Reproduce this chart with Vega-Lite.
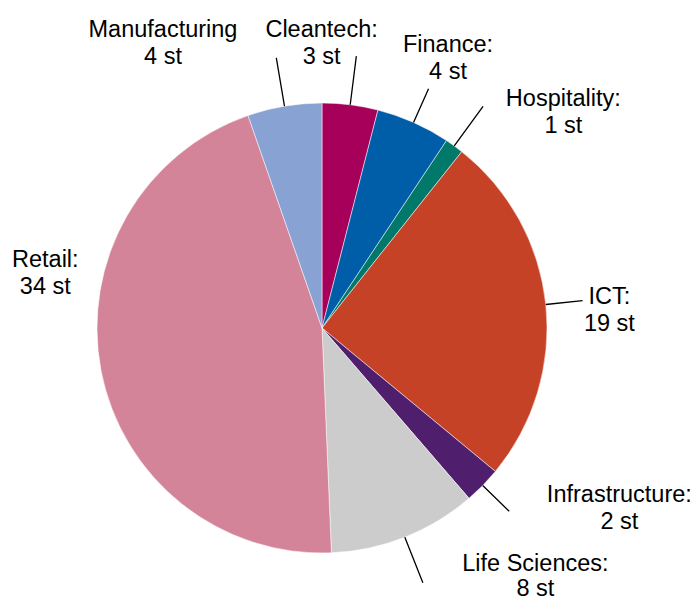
{
  "$schema": "https://vega.github.io/schema/vega-lite/v6.json",
  "width": 644,
  "height": 550,
  "autosize": "none",
  "padding": {"left": 0, "top": 53, "right": 53, "bottom": 0},
  "background": "white",
  "config": {"view": {"stroke": null}, "text": {"font": "Liberation Sans"}},
  "data": {
    "values": [
      {"sector": "Cleantech", "count": 3, "ord": 1, "label": "Cleantech:\n3 st"},
      {"sector": "Finance", "count": 4, "ord": 2, "label": "Finance:\n4 st"},
      {"sector": "Hospitality", "count": 1, "ord": 3, "label": "Hospitality:\n1 st"},
      {"sector": "ICT", "count": 19, "ord": 4, "label": "ICT:\n19 st"},
      {"sector": "Infrastructure", "count": 2, "ord": 5, "label": "Infrastructure:\n2 st"},
      {"sector": "Life Sciences", "count": 8, "ord": 6, "label": "Life Sciences:\n8 st"},
      {"sector": "Retail", "count": 34, "ord": 7, "label": "Retail:\n34 st"},
      {"sector": "Manufacturing", "count": 4, "ord": 8, "label": "Manufacturing\n4 st"}
    ]
  },
  "encoding": {
    "theta": {"field": "count", "type": "quantitative", "stack": true},
    "order": {"field": "ord", "type": "quantitative"}
  },
  "layer": [
    {
      "mark": {"type": "arc", "outerRadius": 225, "stroke": "white", "strokeWidth": 0.5},
      "encoding": {
        "color": {
          "field": "sector",
          "type": "nominal",
          "legend": null,
          "scale": {
            "domain": ["Cleantech", "Finance", "Hospitality", "ICT", "Infrastructure", "Life Sciences", "Retail", "Manufacturing"],
            "range": ["#A6005A", "#005EA8", "#00796B", "#C54227", "#4F1F6E", "#CCCCCC", "#D48499", "#87A2D3"]
          }
        }
      }
    },
    {
      "mark": {"type": "arc", "innerRadius": 225, "outerRadius": 274, "padAngle": 3.14, "filled": false, "stroke": "black", "strokeWidth": 1.3},
      "encoding": {
        "strokeOpacity": {"condition": {"test": "datum.sector === 'Manufacturing' || datum.sector === 'Cleantech' || datum.sector === 'Hospitality' || datum.sector === 'Life Sciences'", "value": 1}, "value": 0}
      }
    },
    {
      "mark": {"type": "arc", "innerRadius": 225, "outerRadius": 262, "padAngle": 3.14, "filled": false, "stroke": "black", "strokeWidth": 1.3},
      "encoding": {
        "strokeOpacity": {"condition": {"test": "datum.sector === 'Finance' || datum.sector === 'ICT' || datum.sector === 'Infrastructure'", "value": 1}, "value": 0}
      }
    },
    {
      "mark": {"type": "text", "radius": 300, "dx": -38, "dy": 7, "align": "center", "baseline": "alphabetic", "fontSize": 23.5, "lineHeight": 27, "lineBreak": "\n", "color": "black"},
      "encoding": {"text": {"condition": {"test": "datum.sector === 'Cleantech'", "field": "label"}, "value": ""}}
    },
    {
      "mark": {"type": "text", "radius": 300, "dx": 4, "dy": -2, "align": "center", "baseline": "alphabetic", "fontSize": 23.5, "lineHeight": 27, "lineBreak": "\n", "color": "black"},
      "encoding": {"text": {"condition": {"test": "datum.sector === 'Finance'", "field": "label"}, "value": ""}}
    },
    {
      "mark": {"type": "text", "radius": 300, "dx": 65, "dy": 21, "align": "center", "baseline": "alphabetic", "fontSize": 23.5, "lineHeight": 27, "lineBreak": "\n", "color": "black"},
      "encoding": {"text": {"condition": {"test": "datum.sector === 'Hospitality'", "field": "label"}, "value": ""}}
    },
    {
      "mark": {"type": "text", "radius": 300, "dx": -11, "dy": 7, "align": "center", "baseline": "alphabetic", "fontSize": 23.5, "lineHeight": 27, "lineBreak": "\n", "color": "black"},
      "encoding": {"text": {"condition": {"test": "datum.sector === 'ICT'", "field": "label"}, "value": ""}}
    },
    {
      "mark": {"type": "text", "radius": 300, "dx": 83, "dy": -36, "align": "center", "baseline": "alphabetic", "fontSize": 23.5, "lineHeight": 27, "lineBreak": "\n", "color": "black"},
      "encoding": {"text": {"condition": {"test": "datum.sector === 'Infrastructure'", "field": "label"}, "value": ""}}
    },
    {
      "mark": {"type": "text", "radius": 300, "dx": 103, "dy": -36, "align": "center", "baseline": "alphabetic", "fontSize": 23.5, "lineHeight": 25, "lineBreak": "\n", "color": "black"},
      "encoding": {"text": {"condition": {"test": "datum.sector === 'Life Sciences'", "field": "label"}, "value": ""}}
    },
    {
      "mark": {"type": "text", "radius": 300, "dx": 18, "dy": -117, "align": "center", "baseline": "alphabetic", "fontSize": 23.5, "lineHeight": 27, "lineBreak": "\n", "color": "black"},
      "encoding": {"text": {"condition": {"test": "datum.sector === 'Retail'", "field": "label"}, "value": ""}}
    },
    {
      "mark": {"type": "text", "radius": 300, "dx": -109, "dy": 5, "align": "center", "baseline": "alphabetic", "fontSize": 23.5, "lineHeight": 27, "lineBreak": "\n", "color": "black"},
      "encoding": {"text": {"condition": {"test": "datum.sector === 'Manufacturing'", "field": "label"}, "value": ""}}
    }
  ]
}
